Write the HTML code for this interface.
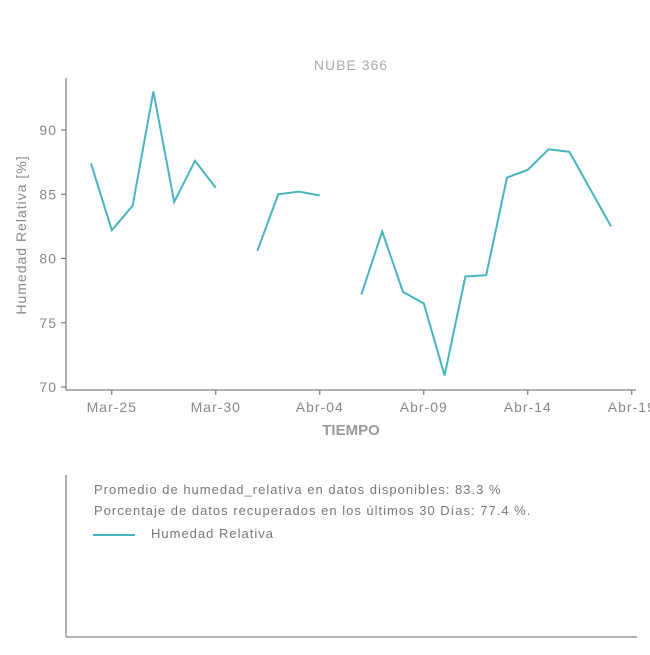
<!DOCTYPE html>
<html><head><meta charset="utf-8"><style>
body{margin:0;background:#fff;font-family:"Liberation Sans",sans-serif;}
svg text{font-family:"Liberation Sans",sans-serif;letter-spacing:1px;}
</style></head><body>
<svg id="chart" width="650" height="650">
<text x="351" y="70" text-anchor="middle" font-size="14" fill="#aaa">NUBE 366</text>
<line x1="66" y1="78" x2="66" y2="390" stroke="#666"/>
<line x1="66" y1="390" x2="636" y2="390" stroke="#666"/>
<g id="yticks"></g><g id="xticks"></g>
<text transform="translate(26,235) rotate(-90)" text-anchor="middle" font-size="14" fill="#888">Humedad Relativa [%]</text>
<text x="351" y="435" text-anchor="middle" font-size="15" font-weight="bold" fill="#999" style="letter-spacing:0">TIEMPO</text>
<g id="series"></g>
<line x1="66" y1="475" x2="66" y2="637" stroke="#666"/>
<line x1="66" y1="637" x2="637" y2="637" stroke="#666"/>
<text x="94" y="494" font-size="13" fill="#777">Promedio de humedad_relativa en datos disponibles: 83.3 %</text>
<text x="94" y="515" font-size="13" fill="#777">Porcentaje de datos recuperados en los últimos 30 Días: 77.4 %.</text>
<line x1="93" y1="535" x2="135" y2="535" stroke="#4ab3c0" stroke-width="2"/>
<text x="151" y="538" font-size="13" fill="#777">Humedad Relativa</text>
</svg>
<script>
const dayIndex=[0,1,2,3,4,5,6,7,8,9,10,11,12,13,14,15,16,17,18,19,20,21,22,23,24,25];
const humidity=[87.4,82.2,84.1,93.0,84.4,87.6,85.5,null,80.6,85.0,85.2,84.9,null,77.2,82.1,77.4,76.5,70.9,78.6,78.7,86.3,86.9,88.5,88.3,85.4,82.5];
const yTicks=[70,75,80,85,90];
const xTickDays=[1,6,11,16,21,26];
const xTickLabels=["Mar-25","Mar-30","Abr-04","Abr-09","Abr-14","Abr-19"];
const NS="http://www.w3.org/2000/svg";
function xs(d){return 91+d*20.8;}
function ys(v){return 387-(v-70)*12.85;}
const yg=document.getElementById('yticks');
yTicks.forEach(v=>{
 const l=document.createElementNS(NS,'line');
 l.setAttribute('x1',61);l.setAttribute('x2',66);l.setAttribute('y1',ys(v));l.setAttribute('y2',ys(v));l.setAttribute('stroke','#666');
 
 
 yg.appendChild(l);
 const t=document.createElementNS(NS,'text');
 t.setAttribute('x',57);t.setAttribute('y',ys(v)+5);t.setAttribute('text-anchor','end');t.setAttribute('font-size','14');t.setAttribute('fill','#888');
 t.textContent=v;
 
 
 yg.appendChild(t);
});
const xg=document.getElementById('xticks');
xTickDays.forEach((d,i)=>{
 const l=document.createElementNS(NS,'line');
 l.setAttribute('x1',xs(d));l.setAttribute('x2',xs(d));l.setAttribute('y1',390);l.setAttribute('y2',395);l.setAttribute('stroke','#666');
 
 
 xg.appendChild(l);
 const t=document.createElementNS(NS,'text');
 t.setAttribute('x',xs(d));t.setAttribute('y',412);t.setAttribute('text-anchor','middle');t.setAttribute('font-size','14');t.setAttribute('fill','#888');
 t.textContent=xTickLabels[i];
 
 
 xg.appendChild(t);
});
const sg=document.getElementById('series');
let seg=[];
function flush(){
 if(seg.length>1){
  const p=document.createElementNS(NS,'polyline');
  p.setAttribute('points',seg.join(' '));p.setAttribute('fill','none');p.setAttribute('stroke','#4ab3c0');p.setAttribute('stroke-width','2');
  
  
  sg.appendChild(p);
 }
 seg=[];
}
humidity.forEach((v,i)=>{ if(v===null){flush();} else seg.push(xs(dayIndex[i])+','+ys(v)); });
flush();
</script>
</body></html>
